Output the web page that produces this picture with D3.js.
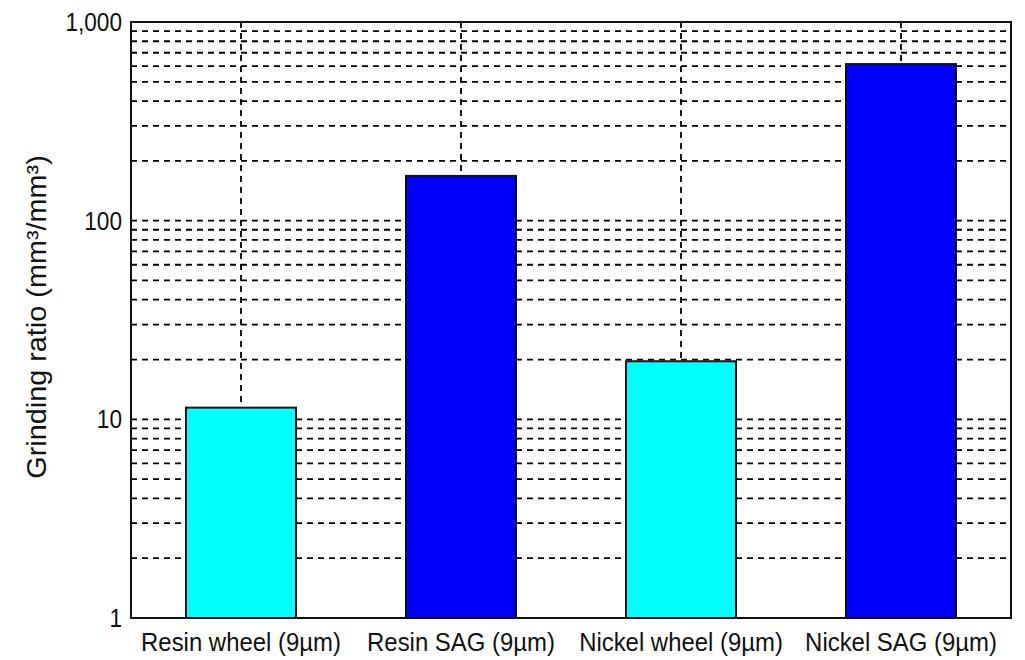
<!DOCTYPE html>
<html>
<head>
<meta charset="utf-8">
<script src="https://cdn.jsdelivr.net/npm/d3@7"></script>
<style>
  html, body { margin: 0; padding: 0; background: #fff; }
  svg { display: block; }
  text { font-family: "Liberation Sans", Arial, sans-serif; fill: #111; }
</style>
</head>
<body>
<svg id="chart" width="1025" height="660"></svg>
<script>
// Grinding ratio per wheel type (log scale)
const categories = ["Resin wheel (9µm)", "Resin SAG (9µm)", "Nickel wheel (9µm)", "Nickel SAG (9µm)"];
const ratios = [11.45, 168, 19.6, 614];
const barColors = ["#00ffff", "#0000ff", "#00ffff", "#0000ff"];
const majorTicks = [1, 10, 100, 1000];
const yTitle = "Grinding ratio (mm³/mm³)";

const margin = { top: 22, right: 14, bottom: 42, left: 131 };
const width = 1025 - margin.left - margin.right;
const height = 660 - margin.top - margin.bottom;

const svg = d3.select("#chart");
const g = svg.append("g").attr("transform", `translate(${margin.left},${margin.top})`);

const x = d3.scaleBand().domain(categories).range([0, width])
  .paddingInner(0.5).paddingOuter(0.25);
const y = d3.scaleLog().domain([1, 1000]).range([height, 0]);

const dash = "6,5";

// Horizontal grid at every major and minor log tick
const gridValues = y.ticks().filter(v => v > 1 && v < 1000);
g.append("g").selectAll("line").data(gridValues).join("line")
  .attr("x1", 0).attr("x2", width)
  .attr("y1", d => y(d)).attr("y2", d => y(d))
  .attr("stroke", "#000").attr("stroke-width", 1.8)
  .attr("stroke-dasharray", dash);

// Vertical grid through each category
g.append("g").selectAll("line").data(categories).join("line")
  .attr("x1", d => x(d) + x.bandwidth() / 2).attr("x2", d => x(d) + x.bandwidth() / 2)
  .attr("y1", 0).attr("y2", height)
  .attr("stroke", "#000").attr("stroke-width", 1.8)
  .attr("stroke-dasharray", dash);

// Bars
g.append("g").selectAll("rect").data(categories).join("rect")
  .attr("x", d => x(d))
  .attr("width", x.bandwidth())
  .attr("y", (d, i) => y(ratios[i]))
  .attr("height", (d, i) => height - y(ratios[i]))
  .attr("fill", (d, i) => barColors[i])
  .attr("stroke", "#111").attr("stroke-width", 2);

// Plot frame
g.append("rect")
  .attr("x", 0).attr("y", 0).attr("width", width).attr("height", height)
  .attr("fill", "none").attr("stroke", "#111").attr("stroke-width", 2);

// Y axis labels (narrow face)
const yAxis = d3.axisLeft(y).tickValues(majorTicks).tickSize(0).tickPadding(0)
  .tickFormat(d3.format(","));
g.append("g").call(yAxis)
  .call(s => s.select(".domain").remove())
  .selectAll("text")
  .attr("x", 0)
  .attr("transform", "translate(-9,0) scale(0.87,1)")
  .style("font-size", "26px").attr("fill", "#111");

// X axis labels (narrow face)
const xAxis = d3.axisBottom(x).tickSize(0).tickPadding(0);
g.append("g").attr("transform", `translate(0,${height})`).call(xAxis)
  .call(s => s.select(".domain").remove())
  .selectAll("text")
  .attr("dy", null).attr("y", 0)
  .attr("transform", "translate(0,33) scale(0.92,1)")
  .style("font-size", "26px").attr("fill", "#111");

// Y axis title
svg.append("text")
  .attr("transform", `translate(46,317) rotate(-90) scale(1.03,1)`)
  .attr("text-anchor", "middle")
  .style("font-size", "28px")
  .text(yTitle);
</script>
</body>
</html>
